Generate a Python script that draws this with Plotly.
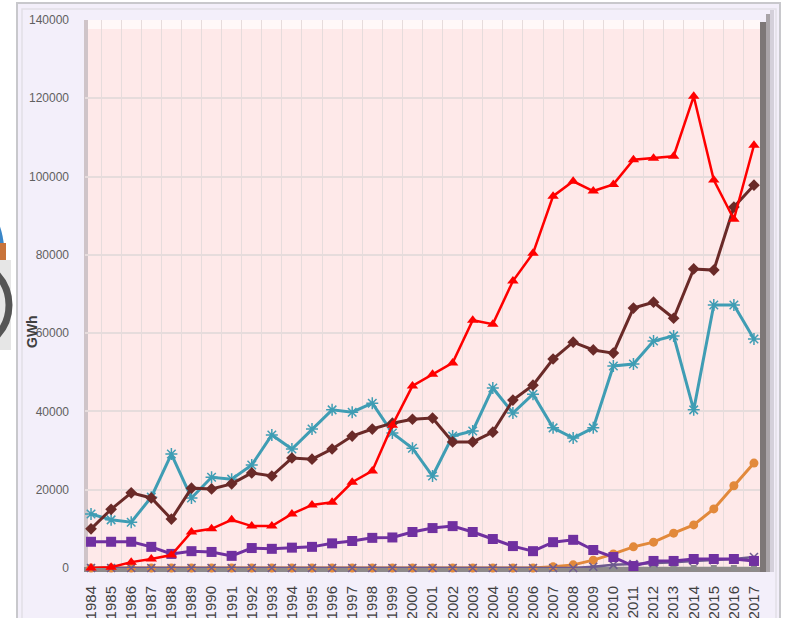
import plotly.graph_objects as go

years = [str(y) for y in range(1984, 2018)]

red_vals = [0, 200, 1500, 2300, 3300, 9200, 10000, 12300, 10700, 10700,
            13800, 16100, 16800, 21900, 24800, 36500, 46500, 49500, 52400, 63300,
            62300, 73300, 80400, 95000, 98800, 96300, 98000, 104300, 104700, 105200,
            120500, 99100, 89100, 108000]
brown_vals = [10000, 15000, 19200, 17900, 12500, 20400, 20200, 21500, 24300, 23500,
              28100, 27800, 30400, 33700, 35500, 37000, 38000, 38300, 32200, 32200,
              34700, 42900, 46700, 53400, 57700, 55700, 54900, 66400, 67900, 63800,
              76400, 76100, 92200, 97800]
teal_vals = [13800, 12300, 11700, 18100, 29100, 17900, 23200, 22700, 26300, 34000,
             30400, 35500, 40400, 39800, 42100, 34500, 30600, 23500, 33700, 35000,
             46000, 39600, 44400, 35800, 33200, 35800, 51600, 52100, 58000, 59300,
             40400, 67200, 67200, 58500]
purple_vals = [6700, 6700, 6700, 5400, 3600, 4300, 4100, 3100, 5100, 4900,
               5200, 5400, 6300, 6900, 7700, 7800, 9200, 10200, 10700, 9200,
               7400, 5600, 4300, 6600, 7200, 4600, 2800, 500, 1800, 1800,
               2300, 2300, 2300, 1800]
orange_vals = [0, 0, 0, 0, 0, 0, 0, 0, 0, 0,
               0, 0, 0, 0, 0, 0, 0, 0, 0, 0,
               0, 0, 0, 300, 800, 2000, 3600, 5400, 6600, 8900,
               11000, 15100, 21000, 26800]
gray_x_vals = [0, 0, 0, 0, 0, 0, 0, 0, 0, 0,
               0, 0, 0, 0, 0, 0, 0, 0, 0, 0,
               0, 0, 0, 0, 0, 300, 800, 1000, 1200, 1500,
               1800, 2000, 2300, 2800]
gray_base_vals = [0] * 34

y_ticks = [0, 20000, 40000, 60000, 80000, 100000, 120000, 140000]

# plot area in screen pixels (body margin removed below)
L, R, T, B = 85, 760, 20, 568
W, H = R - L, B - T


def px(x):
    return (x - L) / W


def py(y):
    return (B - y) / H


fig = go.Figure()

series = [
    ("Series gray", gray_base_vals, "#8c8c8c", "square", 6, 2.5),
    ("Series orange", orange_vals, "#E2893B", "circle", 9, 3),
    ("Series lavender", gray_x_vals, "#6d5a8f", "x-thin-open", 8, 2.5),
    ("Series purple", purple_vals, "#7030A0", "square", 10, 3),
    ("Series teal", teal_vals, "#3F9DB4", "asterisk-open", 10, 3),
    ("Series brown", brown_vals, "#6A2A28", "diamond", 9, 3),
    ("Series red", red_vals, "#FF0000", "triangle-up", 10, 2.5),
]
for name, vals, col, sym, size, lw in series:
    marker = dict(symbol=sym, size=size, color=col)
    if "open" in sym:
        marker["line"] = dict(color=col, width=1.5)
    fig.add_trace(go.Scatter(x=years, y=vals, name=name, mode="lines+markers",
                             line=dict(color=col, width=lw), marker=marker,
                             cliponaxis=False))

shapes = []
# outer frame (lavender panel)
shapes.append(dict(type="rect", xref="paper", yref="paper", layer="below",
                   x0=px(17), x1=px(780), y0=py(640), y1=py(3),
                   fillcolor="#F3EFFA", line=dict(color="#C8C8CC", width=2)))
shapes.append(dict(type="rect", xref="paper", yref="paper", layer="below",
                   x0=px(22), x1=px(776), y0=py(640), y1=py(9),
                   fillcolor="rgba(0,0,0,0)", line=dict(color="#E2E0E6", width=1.5)))
# pink plot area
shapes.append(dict(type="rect", xref="paper", yref="paper", layer="below",
                   x0=px(85), x1=px(760), y0=py(568), y1=py(20),
                   fillcolor="#FEE9E9", line=dict(width=0)))
# right wall (3D side)
shapes.append(dict(type="rect", xref="paper", yref="paper", layer="above",
                   x0=px(760), x1=px(766), y0=py(572), y1=py(22),
                   fillcolor="#7d7777", line=dict(width=0)))
shapes.append(dict(type="rect", xref="paper", yref="paper", layer="above",
                   x0=px(766), x1=px(770), y0=py(572), y1=py(14),
                   fillcolor="#a9a4a8", line=dict(width=0)))
shapes.append(dict(type="rect", xref="paper", yref="paper", layer="above",
                   x0=px(770), x1=px(774), y0=py(572), y1=py(10),
                   fillcolor="#d4d0da", line=dict(width=0)))
# left bevel
shapes.append(dict(type="rect", xref="paper", yref="paper", layer="below",
                   x0=px(84), x1=px(88), y0=py(570), y1=py(20),
                   fillcolor="#cfc4c8", line=dict(width=0)))
# top highlight
shapes.append(dict(type="rect", xref="paper", yref="paper", layer="below",
                   x0=px(88), x1=px(760), y0=py(29), y1=py(20),
                   fillcolor="#FFF8F8", line=dict(width=0)))
# floor
shapes.append(dict(type="rect", xref="paper", yref="paper", layer="below",
                   x0=px(84), x1=px(766), y0=py(572), y1=py(567),
                   fillcolor="#8f8a8a", line=dict(width=0)))
# pie fragments at left edge
shapes.append(dict(type="circle", xref="paper", yref="paper", layer="below",
                   x0=px(-60), x1=px(5), y0=py(320), y1=py(198),
                   fillcolor="#3A86C8", line=dict(width=0)))
shapes.append(dict(type="rect", xref="paper", yref="paper", layer="below",
                   x0=px(-10), x1=px(6), y0=py(260), y1=py(243),
                   fillcolor="#C8733A", line=dict(width=0)))
shapes.append(dict(type="rect", xref="paper", yref="paper", layer="below",
                   x0=px(-10), x1=px(11), y0=py(350), y1=py(260),
                   fillcolor="#e6e6e6", line=dict(width=0)))
shapes.append(dict(type="circle", xref="paper", yref="paper", layer="below",
                   x0=px(-90), x1=px(9), y0=py(352), y1=py(258),
                   fillcolor="rgba(0,0,0,0)", line=dict(color="#555555", width=7)))

fig.update_layout(
    width=786, height=618,
    margin=dict(l=L, r=786 - R, t=T, b=618 - B),
    paper_bgcolor="white",
    plot_bgcolor="#FEE9E9",
    showlegend=False,
    shapes=shapes,
    font=dict(family="Liberation Sans, Arial, sans-serif", color="#505050"),
    xaxis=dict(type="category", range=[-0.3, 33.3], tickson="boundaries",
               showgrid=True, gridcolor="#E6DCDC", gridwidth=1,
               tickangle=-90, tickfont=dict(size=15, color="#404040"),
               ticks="", ticklabelstandoff=14, showline=False, zeroline=False,
               automargin=False, fixedrange=True),
    yaxis=dict(range=[0, 140000], tickvals=y_ticks, ticktext=[str(v) for v in y_ticks],
               showgrid=True, gridcolor="#E6DCDC", gridwidth=1.5,
               tickfont=dict(size=12, color="#606060"), ticks="",
               ticklabelstandoff=15, zeroline=False, showline=False,
               automargin=False, fixedrange=True),
    annotations=[dict(text="<b>GWh</b>", xref="paper", yref="paper",
                      x=px(32), y=py(332), xanchor="center", yanchor="middle",
                      showarrow=False, textangle=-90,
                      font=dict(size=14, color="#404040"))],
)

fig.write_html("out.html", config={"displayModeBar": False},
               post_script="document.body.style.margin='0';document.body.style.overflow='hidden';")
